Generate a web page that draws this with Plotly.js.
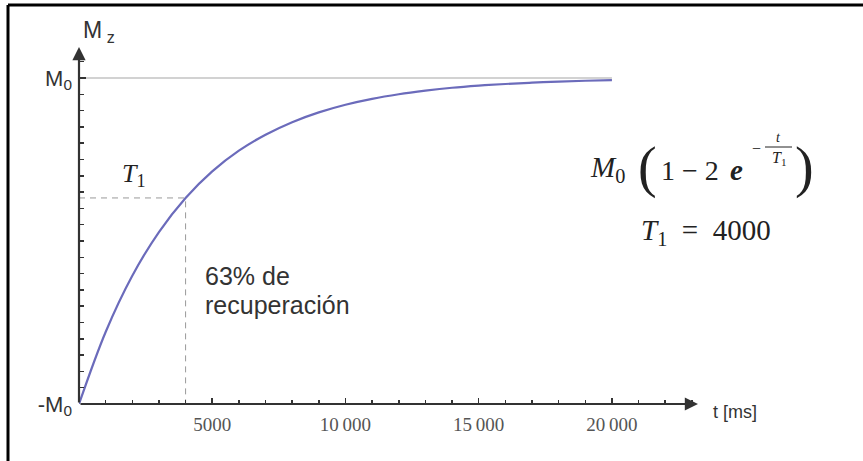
<!DOCTYPE html>
<html>
<head>
<meta charset="utf-8">
<script src="https://cdn.plot.ly/plotly-3.0.1.min.js"></script>
<style>html,body{margin:0;padding:0;background:#fff;}#chart{width:863px;height:461px;}</style>
</head>
<body>
<div id="chart"></div>
<script>
// values (t in ms, Mz in units of M0)
const tValues  = [0, 1000, 2000, 3000, 4000, 5000, 6000, 7000, 8000, 9000, 10000,
                  11000, 12000, 13000, 14000, 15000, 16000, 17000, 18000, 19000, 20000];
const mzValues = [-1.000, -0.558, -0.213, 0.055, 0.264, 0.427, 0.554, 0.652, 0.729, 0.789, 0.836,
                  0.872, 0.900, 0.922, 0.940, 0.953, 0.963, 0.971, 0.978, 0.983, 0.987];
const T1 = 4000;
const mzAtT1 = 0.264;
const xTickVals = [5000, 10000, 15000, 20000];
const xTickText = ['5000', '10\u2009000', '15\u2009000', '20\u2009000'];
const yTickVals = [-1, 1];
const yTickText = ['-M<sub>0</sub>', 'M<sub>0</sub>'];

const W = 863, H = 461;
const px = v => v / W;           // paper x from pixel
const py = v => 1 - v / H;       // paper y from pixel

const XMAX = 23230, YMAX = 1.19;

const traces = [
  { // M0 asymptote
    x: [0, tValues[tValues.length - 1]], y: [1, 1], mode: 'lines',
    line: { color: '#d2d2d2', width: 2 }, hoverinfo: 'skip'
  },
  { // dashed guides at T1
    x: [0, T1, T1], y: [mzAtT1, mzAtT1, -1], mode: 'lines',
    line: { color: '#9a9a9a', width: 1, dash: '6px,5px' }, hoverinfo: 'skip'
  },
  { // recovery curve
    x: tValues, y: mzValues, mode: 'lines',
    line: { color: '#6b6bbb', width: 2.2, shape: 'spline', smoothing: 1 }
  }
];

const serif = 'Liberation Serif, DejaVu Serif, serif';
const sans = 'Liberation Sans, Arial, sans-serif';

function txt(x, y, text, size, family, anchor, color) {
  return { xref: 'paper', yref: 'paper', x: px(x), y: py(y), xanchor: anchor || 'left', yanchor: 'middle',
           showarrow: false, text: text, font: { family: family, size: size, color: color || '#222' } };
}

const layout = {
  width: W, height: H,
  margin: { l: 0, r: 0, t: 0, b: 0, autoexpand: false },
  paper_bgcolor: '#fff', plot_bgcolor: '#fff',
  showlegend: false,
  xaxis: {
    domain: [px(79), px(698)], range: [0, XMAX],
    showgrid: false, zeroline: false, showline: false,
    tickmode: 'array', tickvals: xTickVals, ticktext: xTickText,
    ticks: 'inside', ticklen: 6, tickwidth: 1.5, tickcolor: '#333',
    ticklabelstandoff: 7,
    tickfont: { family: serif, size: 19, color: '#555' },
    minor: { tickmode: 'linear', tick0: 0, dtick: 1000, ticks: 'inside', ticklen: 4, tickwidth: 1.5, tickcolor: '#333' }
  },
  yaxis: {
    domain: [py(404), py(47)], range: [-1, YMAX],
    showgrid: false, zeroline: false, showline: false,
    tickmode: 'array', tickvals: yTickVals, ticktext: yTickText,
    ticks: 'inside', ticklen: 7, tickwidth: 1.5, tickcolor: '#333',
    ticklabelstandoff: 6,
    tickfont: { family: sans, size: 22, color: '#333' },
    minor: { tickmode: 'linear', tick0: -1, dtick: 0.1, ticks: 'inside', ticklen: 5, tickwidth: 1.5, tickcolor: '#333' }
  },
  shapes: [
    { type: 'line', xref: 'paper', yref: 'paper', x0: px(8), x1: 1.01, y0: py(5), y1: py(5), line: { color: '#000', width: 3 } },
    { type: 'line', xref: 'paper', yref: 'paper', x0: px(8), x1: px(8), y0: py(5), y1: -0.01, line: { color: '#000', width: 3 } },
    // fraction bar in the exponent
    { type: 'line', xref: 'paper', yref: 'paper', x0: px(765), x1: px(792), y0: py(147), y1: py(147), line: { color: '#222', width: 1 } }
  ],
  annotations: [
    // axis arrows
    { x: XMAX, y: -1, ax: 0, ay: -1, xref: 'x', yref: 'y', axref: 'x', ayref: 'y', text: '', showarrow: true,
      arrowhead: 2, arrowsize: 1.2, arrowwidth: 2.2, arrowcolor: '#333' },
    { x: 0, y: YMAX, ax: 0, ay: -1, xref: 'x', yref: 'y', axref: 'x', ayref: 'y', text: '', showarrow: true,
      arrowhead: 2, arrowsize: 1.2, arrowwidth: 2.2, arrowcolor: '#333' },
    // axis titles
    txt(81, 31, 'M\u2009<sub>z</sub>', 23, sans, 'left', '#333'),
    txt(711, 412, 't [ms]', 18, sans, 'left', '#333'),
    // T1 label
    txt(120, 175, '<i>T</i><sub>1</sub>', 26, serif),
    // recovery text
    txt(203, 276, '63% de', 25, sans, 'left', '#333'),
    txt(203, 305, 'recuperación', 25, sans, 'left', '#333'),
    // formula
    txt(588, 169, '<i>M</i><sub>0</sub>', 29, serif),
    txt(647, 167, '(', 56, serif, 'center'),
    txt(690, 170, '1 − 2', 28, serif, 'center'),
    txt(736, 170, '<b><i>e</i></b>', 29, serif, 'center'),
    txt(756, 148, '−', 16, serif, 'center'),
    txt(778, 137, '<i>t</i>', 14, serif, 'center'),
    txt(779, 158, '<i>T</i><sub>1</sub>', 16, serif, 'center'),
    txt(804, 167, ')', 56, serif, 'center'),
    txt(706, 232, '<i>T</i><sub>1</sub>\u2002=\u20024000', 29, serif, 'center')
  ]
};

Plotly.newPlot('chart', traces, layout, { displayModeBar: false, staticPlot: true });
</script>
</body>
</html>
